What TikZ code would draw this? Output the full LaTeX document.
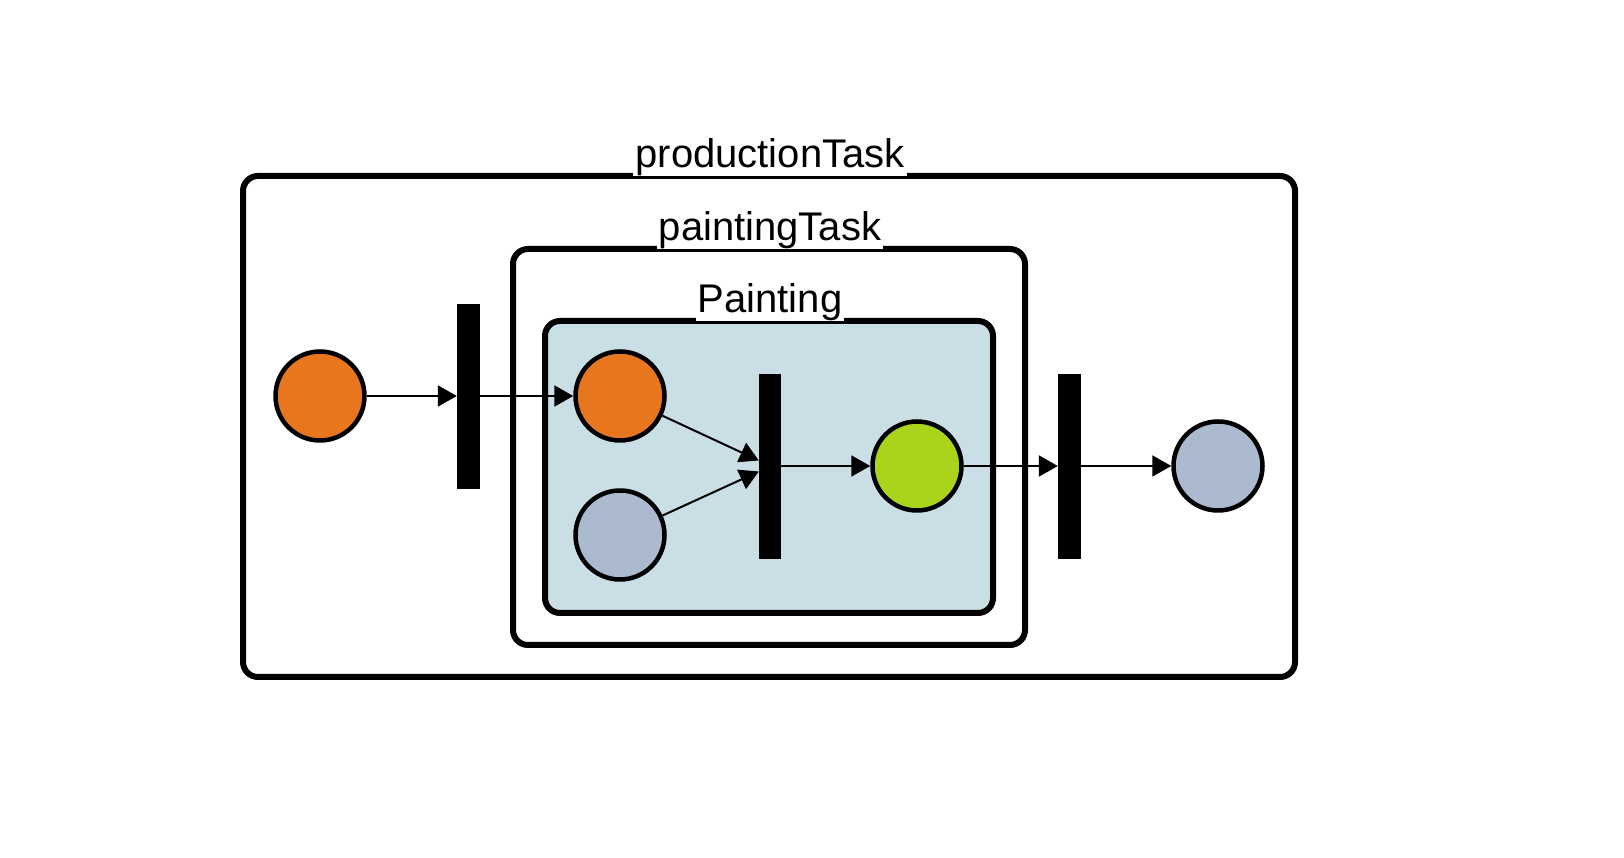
\documentclass[tikz,border=0pt]{standalone}
\usepackage{fontspec}
\setmainfont{Liberation Sans}
\usetikzlibrary{positioning,arrows.meta,calc}
\definecolor{startorange}{RGB}{232,118,30}
\definecolor{endgray}{RGB}{172,186,208}
\definecolor{paintgreen}{RGB}{170,212,28}
\definecolor{regionblue}{RGB}{202,222,230}
\tikzstyle{state}    = [circle, draw=black, line width=4.5pt, minimum size=89pt, inner sep=0pt]
\tikzstyle{forkbar}  = [rectangle, fill=black, minimum width=23pt, minimum height=185pt, inner sep=0pt]
\tikzstyle{arrow}    = [line width=2pt, -{Triangle[length=19pt,width=21pt]}]
\tikzstyle{taskbox}  = [draw=black, line width=6pt, rounded corners=15pt]
\tikzstyle{boxlabel} = [anchor=south, fill=white, inner xsep=2pt, inner ysep=0pt, font=\fontsize{40}{48}\selectfont]

\begin{document}
\begin{tikzpicture}[x=1pt,y=1pt]
	\useasboundingbox[fill=white] (0,0) rectangle (1624,858);

	% nested task regions
	\draw[taskbox] (243,181) rectangle (1295,682);
	\node[boxlabel] (productionlabel) at (770,682) {productionTask};
	\draw[taskbox] (513,213) rectangle (1025,609);
	\node[boxlabel] (paintinglabel) at (770,609) {paintingTask};
	\draw[taskbox, fill=regionblue] (545,245) rectangle (993,537);
	\node[boxlabel] (regionlabel) at (770,537) {Painting};

	% states and bars
	\node[state, fill=startorange] (start) at (320,462) {};
	\node[forkbar] (fork) at (468.5,461.5) {};
	\node[state, fill=startorange] (ready) at (620,462) {};
	\node[state, fill=endgray] (idle) at (620,323) {};
	\node[forkbar, minimum width=22pt] (join) at (770,391.5) {};
	\node[state, fill=paintgreen] (painted) at (917,392) {};
	\node[forkbar] (leave) at (1069.5,391.5) {};
	\node[state, fill=endgray] (done) at (1218,392) {};

	% transitions
	\draw[arrow] (start) -- (fork.west |- start);
	\draw[arrow] (fork.east |- ready) -- (ready);
	\draw[arrow] (ready) -- ($(join.west)+(0,6)$);
	\draw[arrow] (idle) -- ($(join.west)+(0,-5)$);
	\draw[arrow] (join.east |- painted) -- (painted);
	\draw[arrow] (painted) -- (leave.west |- painted);
	\draw[arrow] (leave.east |- done) -- (done);
\end{tikzpicture}
\end{document}
